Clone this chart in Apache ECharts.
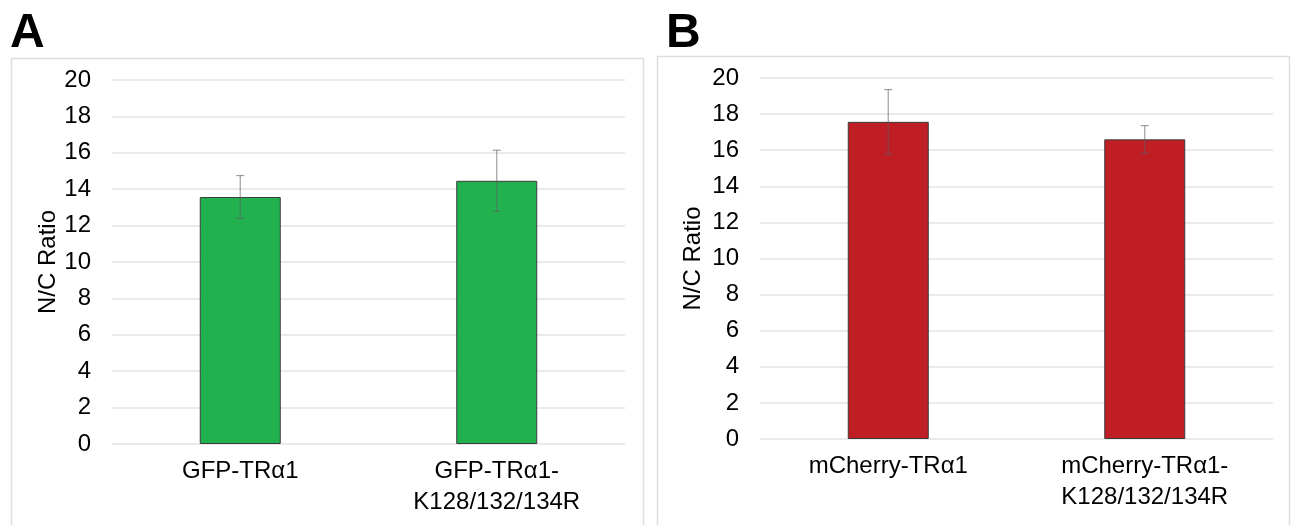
<!DOCTYPE html>
<html>
<head>
<meta charset="utf-8">
<script src="https://cdn.jsdelivr.net/npm/echarts@6/dist/echarts.min.js"></script>
<style>
html,body{margin:0;padding:0;background:#fff;}
#c{width:1291px;height:525px;}
</style>
</head>
<body>
<div id="c"></div>
<script>
// ---- data ----
const categoriesA = ['GFP-TRα1', 'GFP-TRα1-\nK128/132/134R'];
const valuesA = [13.57, 14.46];
const errorsA = [1.18, 1.68];

const categoriesB = ['mCherry-TRα1', 'mCherry-TRα1-\nK128/132/134R'];
const valuesB = [17.57, 16.6];
const errorsB = [1.79, 0.76];

const yTicks = [0, 2, 4, 6, 8, 10, 12, 14, 16, 18, 20];
const yTitle = 'N/C Ratio';
const panelLabels = ['A', 'B'];

// ---- chart ----
const FONT = 'Liberation Sans, Arial, sans-serif';
const chart = echarts.init(document.getElementById('c'));

function errItem() {
  return function (params, api) {
    const x = api.value(0), v = api.value(1), e = api.value(2);
    const top = api.coord([x, v + e]);
    const bot = api.coord([x, v - e]);
    const cx = top[0];
    const hw = 4;
    const st = { stroke: 'rgba(95,95,95,0.6)', lineWidth: 1.2 };
    return {
      type: 'group',
      children: [
        { type: 'line', shape: { x1: cx, y1: top[1], x2: cx, y2: bot[1] }, style: st },
        { type: 'line', shape: { x1: cx - hw, y1: top[1], x2: cx + hw, y2: top[1] }, style: st },
        { type: 'line', shape: { x1: cx - hw, y1: bot[1], x2: cx + hw, y2: bot[1] }, style: st }
      ]
    };
  };
}

function yAxis(gridIndex, gap) {
  return {
    type: 'value', gridIndex: gridIndex, min: yTicks[0], max: yTicks[yTicks.length - 1],
    interval: yTicks[1] - yTicks[0],
    name: yTitle, nameLocation: 'middle', nameGap: gap, nameRotate: 90,
    nameTextStyle: { fontFamily: FONT, fontSize: 24, color: '#000' },
    axisLine: { show: false }, axisTick: { show: false },
    axisLabel: { fontFamily: FONT, fontSize: 24, color: '#000', margin: 21 },
    splitLine: { lineStyle: { color: '#e3e3e3', width: 1.5 } }
  };
}

function xAxis(gridIndex, cats) {
  return {
    type: 'category', gridIndex: gridIndex, data: cats,
    axisLine: { show: false }, axisTick: { show: false },
    axisLabel: { fontFamily: FONT, fontSize: 24, color: '#000', margin: 12, lineHeight: 31, interval: 0 }
  };
}

const option = {
  animation: false,
  backgroundColor: '#fff',
  grid: [
    { left: 112, right: 1291 - 625, top: 80, bottom: 525 - 444 },
    { left: 760, right: 1291 - 1273, top: 78, bottom: 525 - 439 }
  ],
  xAxis: [xAxis(0, categoriesA), xAxis(1, categoriesB)],
  yAxis: [yAxis(0, 52), yAxis(1, 55)],
  graphic: [
    { type: 'rect', shape: { x: 11.5, y: 58.5, width: 632, height: 490 }, style: { fill: null, stroke: '#dedede', lineWidth: 1.5 }, z: -1 },
    { type: 'rect', shape: { x: 657.5, y: 56.5, width: 632, height: 490 }, style: { fill: null, stroke: '#dedede', lineWidth: 1.5 }, z: -1 },
    { type: 'text', left: 10, top: 10, style: { text: panelLabels[0], font: 'bold 48px ' + FONT, fill: '#000' } },
    { type: 'text', left: 666, top: 10, style: { text: panelLabels[1], font: 'bold 48px ' + FONT, fill: '#000' } }
  ],
  series: [
    {
      type: 'bar', xAxisIndex: 0, yAxisIndex: 0, data: valuesA, barWidth: 81,
      itemStyle: { color: '#21B14F', borderColor: '#3b3b3b', borderWidth: 1 }
    },
    {
      type: 'custom', xAxisIndex: 0, yAxisIndex: 0,
      data: valuesA.map((v, i) => [i, v, errorsA[i]]),
      renderItem: errItem(), z: 5
    },
    {
      type: 'bar', xAxisIndex: 1, yAxisIndex: 1, data: valuesB, barWidth: 81,
      itemStyle: { color: '#BF1E25', borderColor: '#3b3b3b', borderWidth: 1 }
    },
    {
      type: 'custom', xAxisIndex: 1, yAxisIndex: 1,
      data: valuesB.map((v, i) => [i, v, errorsB[i]]),
      renderItem: errItem(), z: 5
    }
  ]
};
chart.setOption(option);
</script>
</body>
</html>
